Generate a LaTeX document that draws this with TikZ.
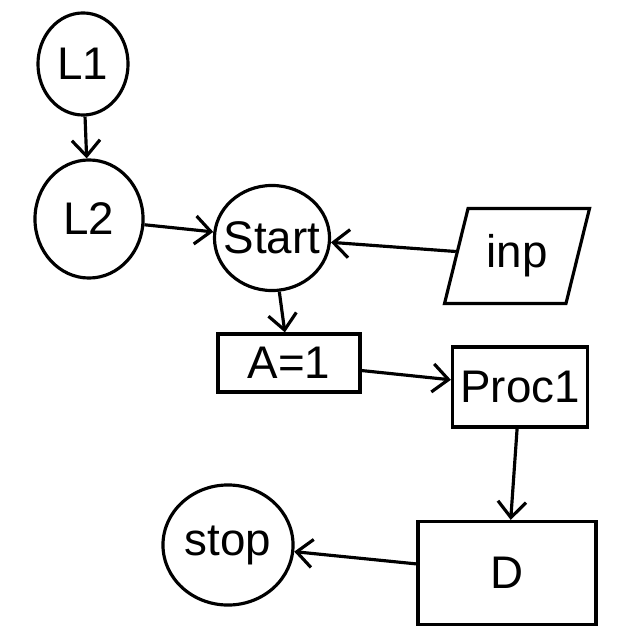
\documentclass[tikz,border=0pt]{standalone}
\usepackage{fontspec}
\setmainfont{Liberation Sans}
\usetikzlibrary{arrows.meta,shapes.geometric}
\begin{document}
\begin{tikzpicture}[x=0.01cm,y=-0.01cm,
  every node/.style={font=\fontsize{13}{15}\selectfont, line width=0.9pt, draw, inner sep=0pt},
  term/.style={ellipse, inner xsep=-2.5pt},
  box/.style={rectangle},
  io/.style={trapezium, trapezium left angle=71, trapezium right angle=109, trapezium stretches=true},
  conn/.style={line width=0.9pt, -{Straight Barb[length=4.5pt,width=8pt,line width=0.9pt]}}]
\useasboundingbox (0,0) rectangle (640,640);
\node[term, minimum width=0.9cm, minimum height=1.02cm] (L1) at (83,64) {L1};
\node[term, minimum width=1.08cm, minimum height=1.18cm] (L2) at (89,219) {L2};
\node[term, minimum width=1.15cm, minimum height=1.05cm] (start) at (272,238) {Start};
\node[io, minimum width=1.45cm, minimum height=0.95cm] (inp) at (517,256) {inp};
\node[box, minimum width=1.42cm, minimum height=0.58cm] (a1) at (289,363) {A=1};
\node[box, minimum width=1.35cm, minimum height=0.8cm] (proc) at (520,387) {Proc1};
\node[box, minimum width=1.78cm, minimum height=1.03cm] (D) at (507,573) {D};
\node[term, minimum width=1.3cm, minimum height=1.2cm] (stop) at (228,545) {stop};
\draw[conn] (L1) -- (L2);
\draw[conn] (L2) -- (start);
\draw[conn] (inp) -- (start);
\draw[conn] (start) -- (a1);
\draw[conn] (a1) -- (proc);
\draw[conn] (proc) -- (D);
\draw[conn] (D) -- (stop);
\end{tikzpicture}
\end{document}
